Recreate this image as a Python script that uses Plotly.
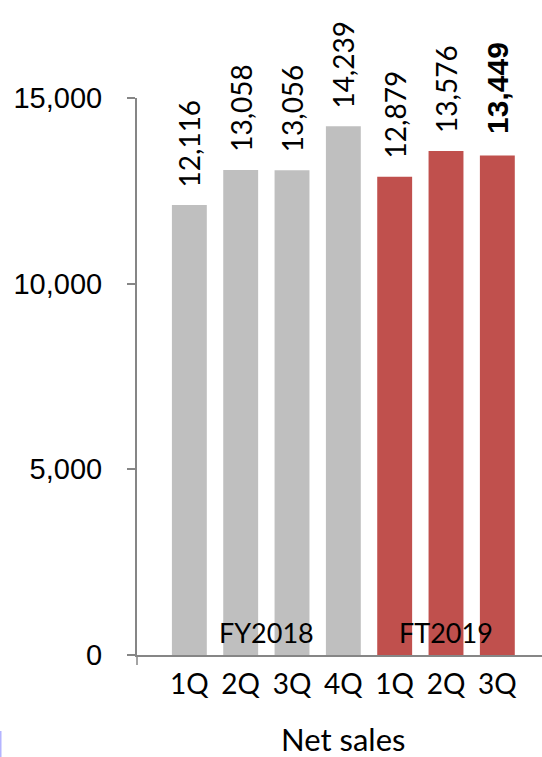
import plotly.graph_objects as go

quarters = ["1Q", "2Q", "3Q", "4Q", "1Q", "2Q", "3Q"]
values = [12116, 13058, 13056, 14239, 12879, 13576, 13449]
bar_colors = ["#BFBFBF"] * 4 + ["#C0504D"] * 3
value_labels = ["12,116", "13,058", "13,056", "14,239", "12,879", "13,576", "13,449"]
group_labels = ["FY2018", "FT2019"]
group_centers = [1.5, 5.0]
y_ticks = [0, 5000, 10000, 15000]
y_ticktext = ["0", "5,000", "10,000", "15,000"]
title_text = "Net sales"

xs = list(range(len(values)))

fig = go.Figure()
fig.add_trace(go.Bar(
    x=xs, y=values, marker=dict(color=bar_colors, line=dict(width=0)),
    width=0.68, hoverinfo="skip",
))

annotations = []
for i, (v, t) in enumerate(zip(values, value_labels)):
    last = i == len(values) - 1
    annotations.append(dict(
        x=i, y=v, xref="x", yref="y", text=f"<b>{t}</b>" if last else t,
        showarrow=False, textangle=-90, xanchor="center", yanchor="bottom",
        yshift=20 if last else 16,
        font=dict(family="Liberation Sans, Arial, sans-serif", size=30, color="black") if last
        else dict(family="Lato, Calibri, sans-serif", size=28, color="black"),
    ))
for g, c in zip(group_labels, group_centers):
    annotations.append(dict(
        x=c, y=0, xref="x", yref="paper", text=g, showarrow=False,
        xanchor="center", yanchor="bottom", yshift=4,
        font=dict(family="Lato, Calibri, sans-serif", size=27, color="black"),
    ))
annotations.append(dict(
    x=3, y=0, xref="x", yref="paper", text=title_text, showarrow=False,
    xanchor="center", yanchor="middle", yshift=-84,
    font=dict(family="Lato, Calibri, sans-serif", size=31, color="black"),
))

fig.update_layout(
    width=542, height=757,
    margin=dict(l=137, r=0, t=98, b=102, pad=0),
    paper_bgcolor="white", plot_bgcolor="white",
    showlegend=False,
    annotations=annotations,
    shapes=[
        dict(type="line", xref="paper", yref="paper", x0=0, x1=0, y0=0, y1=-10 / 557,
             line=dict(color="#868686", width=1.5)),
        dict(type="line", xref="paper", yref="paper", x0=-136.5 / 405, x1=-136.5 / 405,
             y0=-76 / 557, y1=-102 / 557, line=dict(color="#B4B4FF", width=2)),
    ],
    xaxis=dict(
        range=[-1.02, 6.87], tickvals=xs, ticktext=quarters,
        showline=True, linecolor="#868686", linewidth=1.5,
        ticks="", showgrid=False, zeroline=False,
        tickfont=dict(family="Lato, Calibri, sans-serif", size=28, color="black"),
        ticklabelstandoff=4,
    ),
    yaxis=dict(
        range=[0, 15000], tickvals=y_ticks, ticktext=y_ticktext,
        showline=True, linecolor="#868686", linewidth=2,
        ticks="outside", ticklen=8, tickcolor="#868686", tickwidth=1.5,
        showgrid=False, zeroline=False,
        tickfont=dict(family="Liberation Sans, Arial, sans-serif", size=29, color="black"),
        ticklabelstandoff=19,
    ),
)

fig.write_html("out.html")
